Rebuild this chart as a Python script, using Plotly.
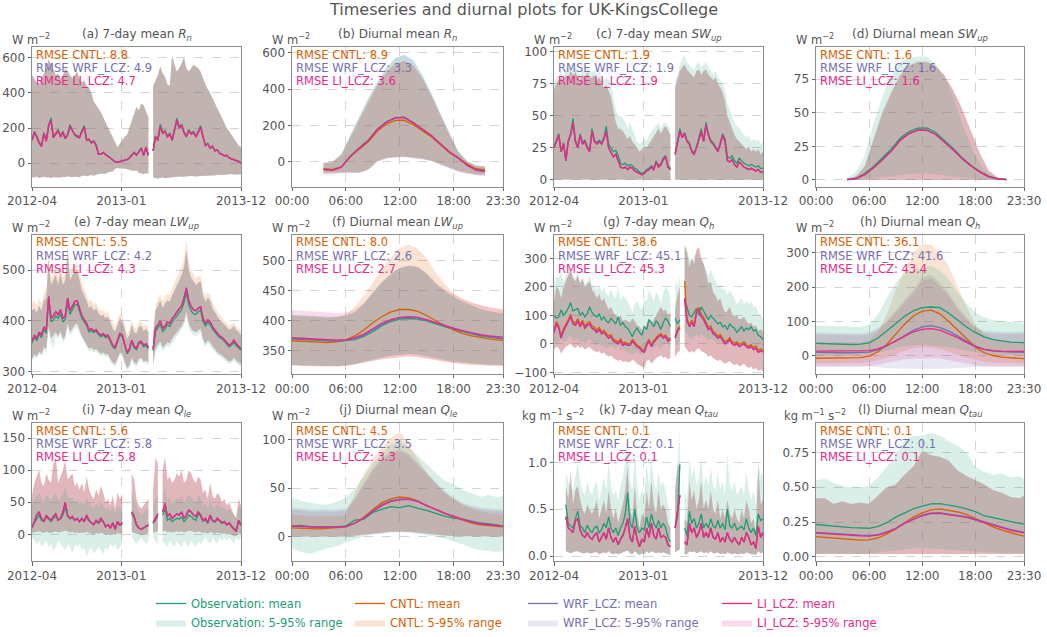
import pandas as pd
import plotly.graph_objects as go

# ----------------------------------------------------------------------------
# Time axes
# ----------------------------------------------------------------------------
WEEK_DATES = [d.strftime("%Y-%m-%d") for d in pd.date_range("2012-04-13", periods=89, freq="7D")]
WEEK_TICKS = [WEEK_DATES[0], "2013-01-01", WEEK_DATES[-1]]
WEEK_TICK_TEXT = ["2012-04", "2013-01", "2013-12"]

HOURS_DAY = [0, 1, 2, 3, 4, 5, 6, 7, 8, 9, 10, 11, 12, 13, 14, 15, 16, 17, 18, 19, 20, 21, 22, 23, 23.5]
HOURS_SUN = [3.5, 4.5, 5.5, 6.5, 7.5, 8.5, 9.5, 10.5, 11.5, 12.5, 13.5, 14.5, 15.5, 16.5, 17.5, 18.5, 19.5, 20.5, 21.5]
HOUR_TICKS = [0, 6, 12, 18, 23.5]
HOUR_TICK_TEXT = ["00:00", "06:00", "12:00", "18:00", "23:30"]

# ----------------------------------------------------------------------------
# 7-day means (weekly samples) and 5-95 % ranges
# ----------------------------------------------------------------------------
RN_WK_OBS = [135, 180, 155, 118, 98, 175, 130, 218, 258, 150,
             170, 192, 155, 182, 145, 165, 220, 186, 165, 155,
             150, 186, 214, 135, 138, 118, 128, 104, 52, 52,
             62, 50, 42, 31, 19, 9, 6, 9, 11, 16,
             21, 31, 47, 62, 47, 67, 88, 47, 93, 47,
             None, 72, 155, 135, 222, 176, 186, 155, 170, 134,
             192, 256, 207, 222, 180, 155, 192, 170, 181, 155,
             181, 214, 155, 104, 114, 88, 98, 72, 78, 57,
             52, 42, 46, 31, 26, 21, 16, 11, 2]
RN_WK_MOD = [130, 175, 150, 115, 95, 170, 125, 210, 245, 145,
             165, 185, 150, 175, 140, 160, 210, 180, 160, 150,
             145, 180, 205, 130, 135, 115, 125, 100, 50, 50,
             60, 48, 40, 30, 18, 8, 5, 8, 10, 15,
             20, 30, 45, 60, 45, 65, 85, 45, 90, 45,
             None, 70, 150, 130, 210, 170, 180, 150, 165, 130,
             185, 245, 200, 215, 175, 150, 185, 165, 175, 150,
             175, 205, 150, 100, 110, 85, 95, 70, 75, 55,
             50, 40, 45, 30, 25, 20, 15, 10, 0]
RN_WK_HI = [500, 480, 460, 450, 480, 520, 540, 590, 560, 520,
            500, 510, 480, 500, 540, 520, 500, 480, 500, 520,
            480, 460, 470, 440, 430, 400, 350, 330, 310, 290,
            260, 230, 210, 180, 150, 110, 90, 110, 130, 150,
            160, 200, 240, 280, 320, 300, 340, 330, 300, 260,
            None, 440, 470, 500, 550, 510, 490, 450, 440, 610,
            560, 520, 540, 570, 600, 540, 520, 540, 560, 550,
            540, 520, 480, 450, 420, 400, 370, 340, 310, 280,
            260, 230, 200, 180, 160, 140, 120, 100, 90]
RN_WK_LO = [-80, -82, -78, -85, -80, -78, -82, -80, -85, -80,
            -78, -80, -82, -78, -80, -75, -78, -80, -76, -78,
            -80, -72, -70, -74, -70, -68, -72, -66, -62, -60,
            -58, -60, -52, -50, -48, -32, -28, -30, -32, -30,
            -35, -40, -42, -45, -40, -55, -60, -62, -58, -60,
            None, -80, -85, -88, -85, -82, -86, -84, -85, -82,
            -80, -78, -76, -75, -78, -74, -75, -72, -74, -76,
            -75, -73, -72, -70, -72, -70, -68, -70, -66, -68,
            -65, -66, -64, -65, -62, -64, -66, -65, -63]

SW_WK_OBS = [26, 31, 36, 23, 29, 16, 31, 36, 48, 31,
             26, 36, 29, 31, 26, 23, 40, 31, 29, 31,
             29, 33, 42, 28, 25, 22, 23, 19, 13, 12,
             13, 11, 12, 11, 9, 8, 6, 5, 6, 8,
             9, 11, 9, 15, 11, 13, 17, 19, 11, 9,
             None, 21, 31, 40, 34, 37, 31, 29, 23, 21,
             26, 33, 40, 31, 45, 36, 31, 29, 26, 23,
             29, 36, 32, 18, 17, 19, 15, 13, 17, 15,
             13, 12, 11, 12, 11, 10, 11, 9, 9]
SW_WK_MOD = [25, 30, 35, 22, 28, 15, 30, 35, 45, 30,
             25, 35, 28, 30, 25, 22, 38, 30, 28, 30,
             28, 32, 38, 25, 22, 18, 20, 15, 10, 9,
             10, 8, 10, 9, 7, 6, 5, 4, 5, 7,
             8, 10, 8, 14, 10, 12, 16, 18, 10, 8,
             None, 20, 30, 38, 33, 36, 30, 28, 22, 20,
             25, 32, 38, 30, 43, 35, 30, 28, 25, 22,
             28, 35, 30, 15, 14, 16, 12, 10, 14, 12,
             10, 9, 8, 9, 8, 7, 8, 6, 6]
SW_WK_HI_OBS = [75, 80, 82, 85, 80, 88, 85, 90, 85, 88,
                85, 82, 86, 84, 88, 85, 84, 86, 82, 85,
                80, 78, 80, 78, 75, 65, 55, 50, 50, 48,
                45, 40, 45, 40, 35, 30, 28, 30, 32, 30,
                35, 38, 40, 42, 45, 40, 44, 45, 42, 40,
                None, 78, 82, 90, 95, 97, 92, 90, 88, 86,
                90, 92, 88, 90, 92, 88, 85, 82, 85, 80,
                78, 75, 70, 60, 55, 50, 45, 42, 40, 38,
                35, 33, 35, 30, 32, 30, 32, 28, 30]
SW_WK_HI_MOD = [70, 75, 78, 80, 76, 82, 80, 85, 82, 84,
                80, 78, 82, 80, 84, 80, 80, 82, 78, 80,
                76, 72, 74, 70, 65, 55, 45, 40, 40, 38,
                35, 32, 34, 30, 28, 25, 22, 24, 26, 25,
                28, 32, 35, 38, 40, 36, 40, 42, 38, 35,
                None, 72, 78, 85, 88, 90, 86, 84, 82, 80,
                85, 86, 82, 85, 86, 82, 80, 78, 80, 75,
                72, 68, 62, 50, 45, 40, 35, 32, 30, 28,
                26, 24, 26, 22, 24, 22, 24, 20, 22]
SW_WK_LO = [0.3, 0.2, 0.4, 0.1, 0.2, 0.0, 0.3, 0.4, 0.5, 0.2,
            0.2, 0.4, 0.2, 0.3, 0.2, 0.1, 0.5, 0.3, 0.2, 0.3,
            0.2, 0.3, 0.4, 0.2, 0.1, 0.0, 0.1, 0.0, 0.0, 0.0,
            0.0, 0.0, 0.0, 0.0, 0.0, 0.0, 0.0, 0.0, 0.0, 0.0,
            0.0, 0.0, 0.0, 0.1, 0.0, 0.1, 0.1, 0.2, 0.0, 0.0,
            None, 0.1, 0.3, 0.4, 0.3, 0.4, 0.3, 0.3, 0.2, 0.2,
            0.3, 0.4, 0.5, 0.3, 0.5, 0.4, 0.3, 0.3, 0.2, 0.2,
            0.3, 0.4, 0.3, 0.1, 0.1, 0.1, 0.0, 0.0, 0.1, 0.0,
            0.0, 0.0, 0.0, 0.0, 0.0, 0.0, 0.0, 0.0, 0.0]

LW_WK_OBS = [356, 368, 361, 374, 367, 383, 376, 440, 398, 402,
             410, 405, 414, 398, 403, 437, 413, 421, 431, 433,
             419, 405, 398, 391, 378, 381, 377, 380, 373, 369,
             372, 367, 369, 357, 349, 345, 357, 372, 369, 352,
             335, 342, 359, 347, 343, 355, 357, 349, 352, 345,
             None, 341, 380, 386, 394, 379, 384, 392, 389, 398,
             403, 410, 417, 422, 436, 455, 431, 420, 414, 413,
             418, 421, 399, 390, 397, 393, 384, 378, 371, 367,
             365, 359, 355, 349, 352, 358, 351, 347, 342]
LW_WK_MOD = [360, 372, 365, 378, 372, 388, 382, 448, 405, 410,
             418, 412, 422, 405, 410, 445, 420, 428, 438, 440,
             425, 410, 402, 395, 382, 385, 380, 383, 376, 372,
             375, 370, 372, 360, 352, 348, 360, 375, 372, 355,
             338, 345, 362, 350, 346, 358, 360, 352, 355, 348,
             None, 345, 385, 392, 400, 385, 390, 398, 395, 405,
             410, 418, 425, 430, 445, 465, 440, 428, 422, 420,
             425, 428, 405, 395, 402, 398, 388, 382, 375, 370,
             368, 362, 358, 352, 355, 362, 355, 350, 345]
LW_WK_HI_MOD = [420, 425, 415, 430, 420, 440, 445, 520, 470, 480,
                490, 470, 495, 470, 480, 535, 480, 490, 495, 500,
                480, 460, 450, 440, 425, 430, 420, 425, 415, 410,
                412, 405, 408, 395, 385, 378, 392, 405, 400, 385,
                365, 372, 392, 378, 375, 388, 390, 380, 384, 378,
                None, 372, 420, 430, 440, 425, 435, 440, 438, 450,
                460, 470, 480, 490, 505, 540, 500, 485, 478, 470,
                475, 478, 450, 438, 445, 440, 425, 418, 410, 402,
                398, 392, 388, 382, 385, 390, 382, 378, 372]
LW_WK_HI_CNTL = [435, 440, 430, 445, 435, 455, 460, 535, 485, 495,
                 505, 485, 510, 485, 495, 550, 495, 505, 510, 515,
                 495, 475, 465, 452, 438, 442, 432, 436, 426, 420,
                 422, 415, 418, 405, 395, 388, 402, 415, 410, 395,
                 375, 382, 402, 388, 385, 398, 400, 390, 394, 388,
                 None, 382, 432, 442, 452, 438, 448, 454, 452, 465,
                 476, 486, 496, 506, 522, 560, 516, 500, 492, 484,
                 488, 490, 462, 450, 456, 452, 436, 428, 420, 412,
                 407, 400, 396, 390, 393, 398, 390, 386, 380]
LW_WK_LO_MOD = [325, 335, 330, 340, 335, 348, 345, 390, 365, 372,
                378, 370, 380, 365, 370, 395, 378, 385, 392, 395,
                382, 370, 362, 355, 345, 348, 342, 345, 340, 336,
                338, 334, 335, 325, 318, 315, 325, 338, 335, 320,
                308, 312, 328, 318, 315, 325, 328, 320, 322, 318,
                None, 315, 345, 352, 360, 348, 352, 358, 356, 365,
                370, 378, 384, 390, 400, 418, 395, 385, 380, 378,
                382, 385, 365, 355, 362, 358, 350, 345, 338, 335,
                332, 328, 325, 320, 322, 328, 322, 318, 315]
LW_WK_LO_OBS = [320, 330, 326, 335, 330, 342, 338, 382, 358, 345,
                371, 364, 373, 358, 363, 388, 371, 378, 385, 388,
                376, 364, 356, 349, 340, 342, 337, 340, 335, 331,
                333, 329, 330, 320, 313, 310, 320, 333, 330, 315,
                303, 307, 323, 313, 310, 320, 323, 315, 317, 313,
                None, 310, 339, 346, 353, 341, 345, 351, 349, 357,
                362, 370, 376, 382, 391, 408, 386, 377, 372, 371,
                375, 378, 358, 349, 356, 352, 344, 339, 332, 330,
                327, 323, 320, 315, 317, 322, 316, 313, 310]

QH_WK_OBS = [100, 90, 95, 120, 100, 110, 125, 145, 115, 120,
             125, 100, 110, 95, 105, 130, 110, 100, 95, 105,
             85, 95, 80, 75, 90, 80, 70, 95, 65, 75,
             60, 55, 40, 25, 45, 55, 40, 30, 60, 50,
             85, 75, 60, 80, 70, 50, 75, 90, 80, 60,
             None, 90, 70, 85, None, 150, 130, 100, 95, 110,
             125, 100, 130, 115, 100, 85, 100, 90, 80, 70,
             75, 60, 65, 50, 70, 60, 55, 40, 50, 60,
             45, 55, 50, 60, 45, 50, 30, 25, 15]
QH_WK_CNTL = [48, 78, 63, 28, 53, 68, 84, 104, 78, 73,
              88, 68, 83, 63, 73, 78, 63, 58, 48, 58,
              42, 47, 37, 27, 32, 17, 12, 7, 17, 2,
              6, 1, 1, 16, 6, -4, -9, -20, -25, 1,
              16, -4, 11, 21, 31, 36, 26, 31, 16, 21,
              None, 26, 52, 62, None, 220, 88, 68, 83, 68,
              118, 128, 103, 93, 78, 58, 63, 43, 37, 27,
              32, 17, 7, 12, 22, 7, 2, 7, -3, 2,
              7, -3, -8, -3, -13, -8, -23, -18, -22]
QH_WK_LCZ = [40, 70, 55, 20, 45, 60, 75, 95, 70, 65,
             80, 60, 75, 55, 65, 70, 55, 50, 40, 50,
             35, 40, 30, 20, 25, 10, 5, 0, 10, -5,
             0, -5, -5, 10, 0, -10, -15, -25, -30, -5,
             10, -10, 5, 15, 25, 30, 20, 25, 10, 15,
             None, 20, 45, 55, None, 160, 80, 60, 75, 60,
             110, 120, 95, 85, 70, 50, 55, 35, 30, 20,
             25, 10, 0, 5, 15, 0, -5, 0, -10, -5,
             0, -10, -15, -10, -20, -15, -30, -25, -28]
QH_WK_HI_OBS = [200, 240, 230, 250, 220, 240, 250, 260, 240, 230,
                250, 220, 230, 210, 220, 240, 210, 200, 190, 210,
                180, 200, 175, 170, 190, 170, 160, 200, 150, 170,
                160, 150, 130, 110, 140, 150, 130, 120, 160, 150,
                190, 170, 150, 180, 170, 140, 180, 200, 190, 160,
                None, 220, 200, 240, None, 340, 330, 300, 290, 310,
                320, 290, 300, 280, 260, 240, 260, 240, 220, 200,
                210, 190, 195, 170, 190, 175, 160, 140, 150, 160,
                140, 150, 140, 150, 130, 130, 110, 100, 90]
QH_WK_LO_OBS = [10, 0, 5, 20, 5, 10, 20, 30, 10, 15,
                20, 5, 10, 0, 10, 20, 5, 0, -5, 5,
                -10, -5, -15, -15, -5, -10, -20, 0, -25, -15,
                -25, -30, -35, -40, -30, -25, -35, -40, -20, -25,
                0, -10, -20, -5, -10, -20, -5, 5, 0, -15,
                None, 5, -5, 10, None, 40, 35, 20, 15, 25,
                35, 20, 35, 25, 20, 10, 20, 15, 10, 5,
                10, 0, 5, -5, 5, 0, -5, -10, -5, 0,
                -10, -5, -10, -5, -15, -10, -20, -25, -30]
QH_WK_HI_MOD = [150, 200, 190, 160, 200, 220, 240, 260, 230, 220,
                240, 210, 230, 200, 210, 220, 190, 180, 160, 175,
                150, 160, 140, 120, 130, 110, 100, 90, 100, 80,
                85, 80, 75, 90, 80, 65, 60, 50, 45, 70,
                90, 70, 85, 100, 120, 130, 115, 120, 100, 110,
                None, 120, 170, 200, None, 350, 320, 270, 300, 280,
                330, 340, 300, 280, 250, 210, 220, 180, 170, 150,
                160, 130, 110, 115, 130, 105, 95, 100, 85, 90,
                95, 80, 70, 75, 60, 65, 45, 50, 45]
QH_WK_LO_MOD = [-20, -10, -15, -35, -20, -10, -5, 0, -10, -15,
                -5, -15, -10, -20, -15, -10, -20, -25, -30, -25,
                -35, -30, -40, -45, -40, -50, -55, -60, -55, -65,
                -60, -65, -65, -55, -60, -70, -75, -80, -85, -60,
                -55, -70, -60, -50, -45, -40, -50, -45, -55, -50,
                None, -45, -30, -25, None, -10, -20, -30, -25, -30,
                -20, -15, -25, -30, -35, -45, -40, -50, -55, -60,
                -55, -65, -70, -65, -60, -70, -75, -70, -80, -75,
                -70, -80, -85, -80, -90, -85, -95, -90, -95]

QLE_WK_OBS = [12, 18, 26, 30, 22, 20, 27, 24, 20, 25,
              28, 22, 24, 30, 42, 28, 24, 26, 22, 24,
              20, 24, 20, 27, 21, 18, 16, 20, 17, 22,
              19, 12, 15, 10, 16, 8, 18, 14, 16, None,
              None, None, 32, 26, 14, 10, 8, 10, 12, 14,
              None, 17, 22, 28, None, 30, 40, 22, 25, 20,
              22, 25, 24, 27, 20, 24, 30, 28, 24, 22,
              33, 28, 20, 23, 17, 27, 21, 19, 23, 21,
              17, 19, 15, 17, 12, 9, 7, 20, 14]
QLE_WK_MOD = [10, 20, 30, 35, 25, 20, 30, 25, 22, 28,
              32, 22, 25, 35, 50, 30, 25, 28, 22, 25,
              20, 25, 20, 30, 22, 18, 15, 22, 18, 25,
              20, 12, 15, 10, 18, 8, 20, 15, 18, None,
              None, None, 35, 28, 15, 10, 8, 10, 12, 15,
              None, 18, 25, 32, None, 35, 48, 28, 32, 25,
              28, 32, 30, 35, 25, 30, 38, 35, 30, 28,
              35, 30, 22, 25, 18, 30, 22, 20, 25, 22,
              18, 20, 15, 18, 12, 8, 5, 22, 15]
QLE_WK_HI_OBS = [45, 55, 60, 65, 55, 50, 62, 58, 52, 60,
                 65, 52, 56, 62, 75, 58, 55, 58, 50, 54,
                 48, 52, 46, 58, 48, 44, 40, 48, 44, 52,
                 46, 38, 42, 36, 44, 32, 46, 40, 44, None,
                 None, None, 62, 55, 40, 34, 30, 34, 38, 40,
                 None, 45, 55, 62, None, 60, 72, 52, 56, 48,
                 52, 56, 54, 60, 48, 54, 62, 58, 52, 48,
                 62, 56, 44, 48, 40, 54, 44, 42, 48, 44,
                 40, 42, 36, 40, 34, 30, 26, 44, 38]
QLE_WK_LO_OBS = [-5, -10, -15, -10, -20, -15, -10, -20, -15, -25,
                 -20, -10, -15, -20, -25, -15, -20, -30, -15, -20,
                 -15, -25, -20, -35, -25, -20, -30, -25, -20, -25,
                 -30, -20, -25, -15, -20, -15, -25, -20, -15, None,
                 None, None, -5, -10, -15, -10, -5, -10, -15, -10,
                 None, -5, -10, -15, None, -10, -15, -20, -10, -15,
                 -20, -10, -15, -20, -10, -15, -20, -10, -15, -20,
                 -10, -15, -10, -5, -10, -15, -5, -10, -15, -5,
                 -10, -5, -10, -5, -10, -15, -5, -10, -5]
QLE_WK_HI_MOD = [60, 80, 90, 100, 80, 75, 95, 85, 80, 110,
                 120, 80, 90, 100, 115, 85, 90, 95, 75, 80,
                 70, 80, 65, 90, 70, 60, 55, 70, 60, 75,
                 65, 50, 55, 45, 60, 40, 65, 55, 60, None,
                 None, None, 95, 85, 55, 45, 40, 45, 50, 55,
                 None, 70, 120, 110, None, 100, 120, 85, 90, 80,
                 85, 95, 90, 100, 80, 85, 100, 95, 85, 80,
                 90, 85, 65, 70, 55, 80, 60, 55, 65, 60,
                 50, 55, 45, 50, 40, 30, 25, 55, 45]
QLE_WK_LO_MOD = [2, 3, 4, 5, 3, 2, 4, 3, 2, 4,
                 5, 3, 4, 5, 6, 4, 3, 4, 2, 3,
                 2, 3, 2, 4, 2, 1, 0, 2, 1, 3,
                 2, 0, 1, 0, 1, -1, 2, 1, 2, None,
                 None, None, 4, 3, 1, 0, -1, 0, 1, 2,
                 None, 2, 4, 5, None, 5, 6, 3, 4, 3,
                 4, 5, 4, 5, 3, 4, 6, 5, 4, 3,
                 5, 4, 2, 3, 1, 4, 2, 1, 3, 2,
                 1, 2, 0, 1, -1, -2, -3, 2, 0]

QTAU_WK_OBS = [None, None, None, None, None, 0.55, 0.35, 0.32, 0.3, 0.4,
               0.48, 0.32, 0.3, 0.25, 0.33, 0.28, 0.25, 0.3, 0.32, 0.25,
               0.28, 0.35, 0.3, 0.42, 0.3, 0.25, 0.3, 0.22, 0.3, 0.35,
               0.45, 0.68, 0.35, 0.3, 0.5, 0.3, 0.25, 0.3, 0.28, 0.42,
               0.3, 0.45, 0.35, 0.3, 0.38, 0.3, 0.35, 0.3, 0.2, 0.15,
               None, 0.3, 0.42, 0.98, None, 0.3, 0.22, 0.48, 0.35, 0.4,
               0.3, 0.35, 0.45, 0.3, 0.35, 0.3, 0.4, 0.32, 0.3, 0.38,
               0.3, 0.35, 0.28, 0.5, 0.32, 0.3, 0.35, 0.28, 0.3, 0.32,
               0.28, 0.4, 0.3, 0.25, 0.3, 0.22, 0.45, 0.38, 0.4]
QTAU_WK_MOD = [None, None, None, None, None, 0.42, 0.3, 0.28, 0.25, 0.38,
               0.4, 0.28, 0.22, 0.2, 0.25, 0.2, 0.18, 0.22, 0.25, 0.15,
               0.2, 0.25, 0.18, 0.3, 0.2, 0.15, 0.2, 0.12, 0.18, 0.22,
               0.3, 0.4, 0.2, 0.15, 0.32, 0.18, 0.1, 0.18, 0.15, 0.3,
               0.2, 0.35, 0.22, 0.18, 0.3, 0.2, 0.22, 0.2, 0.12, 0.1,
               None, 0.3, 0.5, 0.65, None, 0.15, 0.12, 0.35, 0.25, 0.3,
               0.2, 0.25, 0.35, 0.2, 0.25, 0.2, 0.3, 0.2, 0.18, 0.25,
               0.15, 0.2, 0.15, 0.25, 0.18, 0.15, 0.2, 0.15, 0.12, 0.2,
               0.15, 0.25, 0.2, 0.12, 0.15, 0.08, 0.32, 0.2, 0.25]
QTAU_WK_HI_OBS = [None, None, None, None, None, 0.9, 0.8, 0.75, 0.7, 0.85,
                  1.0, 0.8, 0.7, 0.65, 0.8, 0.7, 0.65, 0.75, 0.8, 0.6,
                  0.7, 0.85, 0.7, 1.0, 0.75, 0.65, 0.7, 0.6, 0.75, 0.85,
                  1.0, 1.3, 0.8, 0.7, 1.1, 0.75, 0.6, 0.7, 0.65, 1.0,
                  0.75, 1.05, 0.8, 0.7, 0.9, 0.75, 0.8, 0.7, 0.55, 0.45,
                  None, 0.75, 1.0, 1.35, None, 0.7, 0.6, 1.05, 0.85, 0.95,
                  0.75, 0.85, 1.05, 0.75, 0.85, 0.75, 0.95, 0.75, 0.7, 0.9,
                  0.7, 0.8, 0.65, 1.1, 0.75, 0.7, 0.8, 0.65, 0.7, 0.75,
                  0.65, 0.9, 0.7, 0.6, 0.7, 0.55, 1.0, 0.85, 0.9]
QTAU_WK_HI_MOD = [None, None, None, None, None, 0.75, 0.6, 0.9, 0.55, 0.7,
                  0.75, 0.6, 0.5, 0.45, 0.55, 0.5, 0.45, 0.5, 0.6, 0.4,
                  0.5, 0.6, 0.45, 0.7, 0.5, 0.4, 0.5, 0.35, 0.45, 0.55,
                  0.7, 0.95, 0.5, 0.4, 0.75, 0.45, 0.3, 0.45, 0.4, 0.7,
                  0.5, 0.8, 0.55, 0.45, 0.7, 0.5, 0.55, 0.5, 0.35, 0.3,
                  None, 0.7, 0.95, 1.0, None, 0.4, 0.35, 0.8, 0.6, 0.7,
                  0.5, 0.6, 0.8, 0.5, 0.6, 0.5, 0.7, 0.5, 0.45, 0.6,
                  0.4, 0.5, 0.4, 0.6, 0.45, 0.4, 0.5, 0.4, 0.35, 0.5,
                  0.4, 0.6, 0.5, 0.35, 0.4, 0.25, 0.95, 0.55, 0.6]
QTAU_WK_LO = [None, None, None, None, None, 0.05, 0.04, 0.03, 0.04, 0.05,
              0.05, 0.04, 0.03, 0.03, 0.04, 0.03, 0.03, 0.04, 0.04, 0.02,
              0.03, 0.04, 0.03, 0.05, 0.03, 0.02, 0.03, 0.02, 0.03, 0.04,
              0.05, 0.06, 0.03, 0.02, 0.05, 0.03, 0.01, 0.03, 0.02, 0.05,
              0.03, 0.05, 0.04, 0.03, 0.04, 0.03, 0.04, 0.03, 0.02, 0.01,
              None, 0.04, 0.06, 0.07, None, 0.02, 0.02, 0.05, 0.04, 0.05,
              0.03, 0.04, 0.05, 0.03, 0.04, 0.03, 0.05, 0.03, 0.03, 0.04,
              0.02, 0.03, 0.02, 0.04, 0.03, 0.02, 0.03, 0.02, 0.02, 0.03,
              0.02, 0.04, 0.03, 0.02, 0.02, 0.01, 0.05, 0.03, 0.04]

# ----------------------------------------------------------------------------
# Diurnal means and 5-95 % ranges
# ----------------------------------------------------------------------------
RN_DI_OBS = [-40, -45, -28, 32, 78, 120, 180, 220, 244, 246, 216, 180, 146, 100, 56, 22, -16, -43, -50]
RN_DI_CNTL = [-38, -42, -28, 28, 70, 110, 168, 208, 228, 230, 205, 170, 138, 95, 52, 22, -12, -38, -44]
RN_DI_LCZ = [-42, -47, -30, 30, 75, 118, 178, 218, 242, 245, 215, 178, 145, 100, 55, 22, -18, -45, -52]
RN_DI_HI_OUT = [-5, 0, 45, 150, 250, 350, 440, 515, 570, 590, 560, 480, 380, 270, 160, 60, 5, -20, -25]
RN_DI_HI_IN = [-8, -3, 38, 138, 235, 330, 420, 490, 540, 555, 530, 460, 365, 260, 150, 55, 0, -22, -28]
RN_DI_LO = [-60, -60, -57, -55, -58, -40, 5, 22, 28, 30, 25, 18, 8, -10, -30, -48, -60, -68, -70]
RN_DI_LO_LCZ = [-65, -66, -62, -60, -62, -45, 0, 18, 24, 26, 22, 14, 4, -14, -35, -54, -66, -74, -76]

SW_DI_OBS = [0.5, 1.3, 4.8, 10.0, 16.5, 23.0, 31.0, 36.0, 38.5, 38.8, 35.5, 29.5, 23.5, 16.5, 11.0, 6.5, 2.8, 1.0, 0.5]
SW_DI_MOD = [0.3, 1.0, 4.0, 9.0, 15.0, 21.5, 29.5, 34.5, 37.0, 37.0, 34.0, 28.5, 22.5, 16.0, 10.5, 6.0, 2.5, 0.8, 0.3]
SW_DI_HI_OBS = [1.5, 6, 18, 42, 62, 78, 87, 91, 92, 92, 86, 77, 62, 42, 25, 12, 4, 1.5, 1]
SW_DI_HI_MOD = [0.5, 2.5, 10, 30, 50, 65, 78, 85, 88, 88, 85, 78, 67, 53, 37, 20, 7, 2, 0.5]
SW_DI_LO_OBS = [0, 0, 0.3, 1, 2, 3, 4, 4.5, 5, 5, 4.5, 3.5, 2.5, 1.5, 0.8, 0.3, 0, 0, 0]
SW_DI_LO_MOD = [0, 0, 0, 0, 0, 0, 0, 0, 0, 0, 0, 0, 0, 0, 0, 0, 0, 0, 0]

LW_DI_OBS = [370, 369, 368, 367, 366, 366, 367, 369, 374, 382, 392, 399, 403, 404, 403, 400, 395, 390, 386, 382, 378, 375, 373, 371, 370]
LW_DI_CNTL = [367, 366, 365, 364, 364, 365, 368, 375, 385, 397, 407, 415, 419, 419, 416, 409, 400, 392, 385, 379, 375, 372, 370, 368, 368]
LW_DI_WRF = [371, 370, 369, 368, 367, 367, 368, 370, 376, 385, 394, 401, 405, 406, 405, 401, 396, 391, 387, 383, 379, 376, 374, 372, 371]
LW_DI_LI = [372, 371, 370, 369, 368, 368, 369, 372, 378, 387, 396, 402, 406, 407, 406, 402, 397, 392, 388, 384, 380, 377, 375, 374, 373]
LW_DI_HI_CNTL = [408, 407, 406, 405, 405, 406, 410, 424, 442, 464, 486, 505, 522, 527, 520, 505, 481, 462, 446, 437, 431, 426, 422, 419, 418]
LW_DI_HI_OBS = [410, 409, 408, 407, 407, 407, 409, 414, 428, 447, 464, 478, 488, 492, 490, 478, 462, 450, 440, 432, 426, 420, 416, 413, 412]
LW_DI_HI_LI = [418, 417, 416, 415, 414, 413, 414, 418, 430, 448, 465, 478, 488, 492, 490, 480, 465, 453, 444, 436, 430, 426, 423, 421, 420]
LW_DI_LO_MOD = [326, 325, 325, 324, 324, 324, 325, 327, 330, 333, 336, 338, 340, 341, 340, 338, 335, 332, 330, 328, 327, 326, 326, 325, 325]
LW_DI_LO_OBS = [327, 326, 326, 325, 325, 325, 326, 328, 332, 336, 339, 342, 344, 345, 344, 342, 338, 335, 332, 330, 329, 328, 327, 327, 326]

QH_DI_OBS = [36, 35, 34, 33, 33, 34, 38, 52, 72, 93, 115, 131, 140, 142, 140, 124, 104, 84, 68, 55, 47, 43, 40, 39, 38]
QH_DI_CNTL = [-7, -7, -7, -7, -6, -5, -1, 12, 33, 63, 92, 116, 130, 133, 122, 100, 76, 50, 26, 9, 1, -4, -6, -7, -8]
QH_DI_WRF = [10, 9, 9, 9, 9, 9, 11, 17, 29, 44, 60, 74, 84, 88, 82, 72, 58, 43, 28, 19, 14, 12, 11, 10, 10]
QH_DI_LI = [14, 14, 14, 13, 13, 13, 15, 20, 30, 43, 57, 70, 77, 79, 75, 65, 53, 39, 27, 19, 15, 14, 13, 13, 13]
QH_DI_HI_OBS = [88, 87, 85, 84, 83, 84, 90, 120, 168, 212, 240, 250, 255, 262, 248, 222, 185, 152, 127, 112, 104, 100, 98, 97, 97]
QH_DI_HI_CNTL = [40, 40, 40, 40, 40, 40, 45, 70, 120, 190, 250, 298, 325, 322, 300, 260, 202, 142, 92, 62, 48, 42, 40, 40, 40]
QH_DI_HI_WRF = [68, 67, 66, 65, 65, 65, 68, 80, 102, 132, 162, 192, 228, 236, 212, 182, 142, 112, 84, 73, 70, 69, 69, 70, 70]
QH_DI_HI_LI = [62, 62, 61, 60, 60, 60, 63, 75, 96, 125, 155, 183, 218, 225, 203, 175, 136, 106, 80, 68, 65, 64, 64, 65, 65]
QH_DI_LO_OBS = [2, 2, 1, 1, 1, 2, 4, 8, 15, 22, 28, 30, 32, 30, 28, 25, 20, 15, 10, 6, 4, 3, 3, 2, 2]
QH_DI_LO_CNTL = [-22, -22, -22, -22, -21, -20, -18, -12, -5, 5, 15, 22, 25, 24, 20, 12, 3, -5, -12, -17, -20, -21, -22, -22, -22]
QH_DI_LO_WRF = [-30, -30, -30, -30, -30, -30, -30, -32, -35, -37, -38, -38, -38, -38, -38, -37, -36, -34, -32, -31, -30, -30, -30, -30, -30]
QH_DI_LO_LI = [-32, -32, -32, -32, -32, -31, -30, -26, -20, -14, -10, -8, -7, -7, -8, -11, -16, -22, -27, -30, -31, -32, -32, -32, -32]

QLE_DI_OBS = [11, 11.5, 10, 9.5, 10, 10, 11, 17, 18, 25, 28, 31, 30, 32, 29, 27, 24, 21, 19, 18, 16, 14, 13, 12, 11]
QLE_DI_CNTL = [9, 8.5, 8, 8, 8.5, 9, 10, 14, 20, 28, 35, 39, 41, 40, 37, 32, 28, 24, 20, 17, 14, 12, 11, 10, 10]
QLE_DI_WRF = [10.5, 10, 9.5, 9.5, 9.5, 9.5, 10, 13.5, 19, 27, 33, 37, 39, 39, 36.5, 32, 28, 24, 20.5, 17.5, 15, 13, 12, 11, 10.5]
QLE_DI_LI = [11, 10.5, 10, 10, 10, 10, 10.5, 14, 19, 26, 32, 36, 38, 38.5, 36, 32, 28, 24, 21, 18, 15, 13, 12, 11, 11]
QLE_DI_HI_OBS = [40, 37, 35, 33, 33, 36, 40, 50, 62, 75, 86, 95, 100, 92, 84, 75, 66, 58, 54, 48, 45, 41, 43, 40, 43]
QLE_DI_HI_CNTL = [22, 22, 21, 21, 21, 21, 22, 45, 65, 80, 92, 102, 108, 96, 80, 66, 55, 46, 39, 33, 29, 26, 24, 23, 22]
QLE_DI_HI_WRF = [30, 29, 28, 28, 28, 28, 29, 40, 55, 70, 80, 88, 90, 86, 76, 66, 56, 47, 40, 35, 32, 30, 29, 28, 28]
QLE_DI_HI_LI = [28, 27, 26, 26, 26, 26, 27, 38, 53, 68, 78, 86, 88, 84, 74, 64, 54, 45, 38, 33, 30, 28, 27, 26, 26]
QLE_DI_LO_OBS = [-12, -16, -18, -15, -12, -10, -6, -3, 0, 2, 3, 4, 5, 4, 3, 1, 0, -2, -5, -8, -12, -14, -15, -16, -15]
QLE_DI_LO_MOD = [0, 0, 0, 0, 0, 0, 0, 1, 2, 3, 4, 5, 5, 5, 4, 3, 2, 1, 0.5, 0, 0, 0, 0, 0, 0]

QTAU_DI_OBS = [0.232, 0.228, 0.22, 0.215, 0.21, 0.207, 0.205, 0.218, 0.245, 0.285, 0.315, 0.345, 0.365, 0.38, 0.382, 0.372, 0.36, 0.345, 0.325, 0.295, 0.28, 0.27, 0.255, 0.24, 0.235]
QTAU_DI_CNTL = [0.145, 0.14, 0.135, 0.13, 0.125, 0.12, 0.122, 0.135, 0.165, 0.2, 0.245, 0.285, 0.315, 0.338, 0.345, 0.335, 0.322, 0.305, 0.275, 0.245, 0.215, 0.192, 0.172, 0.155, 0.148]
QTAU_DI_WRF = [0.175, 0.17, 0.165, 0.162, 0.158, 0.155, 0.153, 0.16, 0.18, 0.205, 0.245, 0.275, 0.3, 0.315, 0.317, 0.307, 0.3, 0.288, 0.27, 0.25, 0.23, 0.21, 0.195, 0.183, 0.177]
QTAU_DI_LI = [0.17, 0.165, 0.16, 0.157, 0.153, 0.15, 0.148, 0.155, 0.175, 0.2, 0.24, 0.27, 0.295, 0.31, 0.312, 0.302, 0.295, 0.283, 0.265, 0.245, 0.225, 0.205, 0.19, 0.178, 0.172]
QTAU_DI_HI_OBS = [0.55, 0.56, 0.53, 0.51, 0.5, 0.5, 0.51, 0.57, 0.65, 0.73, 0.84, 0.87, 0.87, 0.89, 0.87, 0.83, 0.8, 0.75, 0.65, 0.61, 0.59, 0.6, 0.57, 0.58, 0.56]
QTAU_DI_HI_MOD = [0.42, 0.42, 0.38, 0.4, 0.38, 0.39, 0.38, 0.44, 0.5, 0.52, 0.59, 0.65, 0.76, 0.73, 0.72, 0.69, 0.62, 0.58, 0.55, 0.52, 0.48, 0.46, 0.43, 0.42, 0.44]
QTAU_DI_LO_OBS = [0.025, 0.022, 0.02, 0.02, 0.02, 0.02, 0.022, 0.03, 0.04, 0.05, 0.055, 0.06, 0.065, 0.065, 0.06, 0.055, 0.05, 0.045, 0.04, 0.035, 0.03, 0.028, 0.026, 0.025, 0.025]
QTAU_DI_LO_MOD = [0.02, 0.02, 0.02, 0.02, 0.02, 0.02, 0.02, 0.021, 0.022, 0.023, 0.024, 0.025, 0.025, 0.025, 0.025, 0.024, 0.023, 0.022, 0.021, 0.02, 0.02, 0.02, 0.02, 0.02, 0.02]

# RMSE scores shown in each panel (a .. l)
RMSE_CNTL = [8.8, 8.9, 1.9, 1.6, 5.5, 8.0, 38.6, 36.1, 5.6, 4.5, 0.1, 0.1]
RMSE_WRF = [4.9, 3.3, 1.9, 1.6, 4.2, 2.6, 45.1, 41.6, 5.8, 3.5, 0.1, 0.1]
RMSE_LI = [4.7, 3.6, 1.9, 1.6, 4.3, 2.7, 45.3, 43.4, 5.8, 3.3, 0.1, 0.1]

# ----------------------------------------------------------------------------
# Styling
# ----------------------------------------------------------------------------
W, H = 1047, 637
FONT = "DejaVu Sans"
TEXT = "#555555"
SERIES = ["obs", "cntl", "wrf", "li"]
BAND_ORDER = ["li", "wrf", "cntl", "obs"]
LABELS = {"obs": "Observation", "cntl": "CNTL", "wrf": "WRF_LCZ", "li": "LI_LCZ"}
COLORS = {"obs": "#1b9e77", "cntl": "#d95f02", "wrf": "#7570b3", "li": "#e7298a"}
LEGEND_OF = {"obs": "legend", "cntl": "legend2", "wrf": "legend3", "li": "legend4"}
BAND_ALPHA = 0.17

COL_PX = [(32, 241), (292, 503), (554, 763), (816, 1024)]
ROW_PX = [(47.7, 188.3), (237.3, 377.3), (427.3, 566.7)]

UNIT_W = "W m<sup>\u22122</sup>"
UNIT_TAU = "kg m<sup>\u22121</sup> s<sup>\u22122</sup>"


def rgba(hex_color, a):
    h = hex_color.lstrip("#")
    return "rgba(%d,%d,%d,%s)" % (int(h[0:2], 16), int(h[2:4], 16), int(h[4:6], 16), a)


def same4(v):
    return {s: v for s in SERIES}


PANELS = [
    dict(title="(a) 7-day mean <i>R<sub>n</sub></i>", kind="week", unit=UNIT_W,
         yrange=[-133, 660], yticks=[0, 200, 400, 600], fmt="",
         mean=dict(obs=RN_WK_OBS, cntl=RN_WK_MOD, wrf=RN_WK_MOD, li=RN_WK_MOD),
         band=same4((RN_WK_LO, RN_WK_HI))),
    dict(title="(b) Diurnal mean <i>R<sub>n</sub></i>", kind="sun", unit=UNIT_W,
         yrange=[-136, 631], yticks=[0, 200, 400, 600], fmt="",
         mean=dict(obs=RN_DI_OBS, cntl=RN_DI_CNTL, wrf=RN_DI_LCZ, li=RN_DI_LCZ),
         band=dict(obs=(RN_DI_LO, RN_DI_HI_OUT), cntl=(RN_DI_LO, RN_DI_HI_IN),
                   wrf=(RN_DI_LO_LCZ, RN_DI_HI_OUT), li=(RN_DI_LO_LCZ, RN_DI_HI_IN))),
    dict(title="(c) 7-day mean <i>SW<sub>up</sub></i>", kind="week", unit=UNIT_W,
         yrange=[-5.2, 103.6], yticks=[0, 25, 50, 75, 100], fmt="",
         mean=dict(obs=SW_WK_OBS, cntl=SW_WK_MOD, wrf=SW_WK_MOD, li=SW_WK_MOD),
         band=dict(obs=(SW_WK_LO, SW_WK_HI_OBS), cntl=(SW_WK_LO, SW_WK_HI_MOD),
                   wrf=(SW_WK_LO, SW_WK_HI_MOD), li=(SW_WK_LO, SW_WK_HI_MOD))),
    dict(title="(d) Diurnal mean <i>SW<sub>up</sub></i>", kind="sun", unit=UNIT_W,
         yrange=[-4.9, 98.8], yticks=[0, 25, 50, 75], fmt="",
         mean=dict(obs=SW_DI_OBS, cntl=SW_DI_MOD, wrf=SW_DI_MOD, li=SW_DI_MOD),
         band=dict(obs=(SW_DI_LO_OBS, SW_DI_HI_OBS), cntl=(SW_DI_LO_MOD, SW_DI_HI_MOD),
                   wrf=(SW_DI_LO_MOD, SW_DI_HI_MOD), li=(SW_DI_LO_MOD, SW_DI_HI_MOD))),
    dict(title="(e) 7-day mean <i>LW<sub>up</sub></i>", kind="week", unit=UNIT_W,
         yrange=[296, 569], yticks=[300, 400, 500], fmt="",
         mean=dict(obs=LW_WK_OBS, cntl=LW_WK_MOD, wrf=LW_WK_MOD, li=LW_WK_MOD),
         band=dict(obs=(LW_WK_LO_OBS, LW_WK_HI_MOD), cntl=(LW_WK_LO_MOD, LW_WK_HI_CNTL),
                   wrf=(LW_WK_LO_MOD, LW_WK_HI_MOD), li=(LW_WK_LO_MOD, LW_WK_HI_MOD))),
    dict(title="(f) Diurnal mean <i>LW<sub>up</sub></i>", kind="day", unit=UNIT_W,
         yrange=[312, 543], yticks=[350, 400, 450, 500], fmt="",
         mean=dict(obs=LW_DI_OBS, cntl=LW_DI_CNTL, wrf=LW_DI_WRF, li=LW_DI_LI),
         band=dict(obs=(LW_DI_LO_OBS, LW_DI_HI_OBS), cntl=(LW_DI_LO_MOD, LW_DI_HI_CNTL),
                   wrf=(LW_DI_LO_OBS, LW_DI_HI_OBS), li=(LW_DI_LO_MOD, LW_DI_HI_LI))),
    dict(title="(g) 7-day mean <i>Q<sub>h</sub></i>", kind="week", unit=UNIT_W,
         yrange=[-105, 382], yticks=[-100, 0, 100, 200, 300], fmt="",
         mean=dict(obs=QH_WK_OBS, cntl=QH_WK_CNTL, wrf=QH_WK_LCZ, li=QH_WK_LCZ),
         band=dict(obs=(QH_WK_LO_OBS, QH_WK_HI_OBS), cntl=(QH_WK_LO_MOD, QH_WK_HI_MOD),
                   wrf=(QH_WK_LO_MOD, QH_WK_HI_MOD), li=(QH_WK_LO_MOD, QH_WK_HI_MOD))),
    dict(title="(h) Diurnal mean <i>Q<sub>h</sub></i>", kind="day", unit=UNIT_W,
         yrange=[-52, 351], yticks=[0, 100, 200, 300], fmt="",
         mean=dict(obs=QH_DI_OBS, cntl=QH_DI_CNTL, wrf=QH_DI_WRF, li=QH_DI_LI),
         band=dict(obs=(QH_DI_LO_OBS, QH_DI_HI_OBS), cntl=(QH_DI_LO_CNTL, QH_DI_HI_CNTL),
                   wrf=(QH_DI_LO_WRF, QH_DI_HI_WRF), li=(QH_DI_LO_LI, QH_DI_HI_LI))),
    dict(title="(i) 7-day mean <i>Q<sub>le</sub></i>", kind="week", unit=UNIT_W,
         yrange=[-42, 173], yticks=[0, 50, 100, 150], fmt="",
         mean=dict(obs=QLE_WK_OBS, cntl=QLE_WK_MOD, wrf=QLE_WK_MOD, li=QLE_WK_MOD),
         band=dict(obs=(QLE_WK_LO_OBS, QLE_WK_HI_OBS), cntl=(QLE_WK_LO_MOD, QLE_WK_HI_MOD),
                   wrf=(QLE_WK_LO_MOD, QLE_WK_HI_MOD), li=(QLE_WK_LO_MOD, QLE_WK_HI_MOD))),
    dict(title="(j) Diurnal mean <i>Q<sub>le</sub></i>", kind="day", unit=UNIT_W,
         yrange=[-25.6, 117], yticks=[0, 50, 100], fmt="",
         mean=dict(obs=QLE_DI_OBS, cntl=QLE_DI_CNTL, wrf=QLE_DI_WRF, li=QLE_DI_LI),
         band=dict(obs=(QLE_DI_LO_OBS, QLE_DI_HI_OBS), cntl=(QLE_DI_LO_MOD, QLE_DI_HI_CNTL),
                   wrf=(QLE_DI_LO_MOD, QLE_DI_HI_WRF), li=(QLE_DI_LO_MOD, QLE_DI_HI_LI))),
    dict(title="(k) 7-day mean <i>Q<sub>tau</sub></i>", kind="week", unit=UNIT_TAU,
         yrange=[-0.057, 1.42], yticks=[0.0, 0.5, 1.0], fmt=".1f",
         mean=dict(obs=QTAU_WK_OBS, cntl=QTAU_WK_MOD, wrf=QTAU_WK_MOD, li=QTAU_WK_MOD),
         band=dict(obs=(QTAU_WK_LO, QTAU_WK_HI_OBS), cntl=(QTAU_WK_LO, QTAU_WK_HI_MOD),
                   wrf=(QTAU_WK_LO, QTAU_WK_HI_MOD), li=(QTAU_WK_LO, QTAU_WK_HI_MOD))),
    dict(title="(l) Diurnal mean <i>Q<sub>tau</sub></i>", kind="day", unit=UNIT_TAU,
         yrange=[-0.033, 0.96], yticks=[0.0, 0.25, 0.5, 0.75], fmt=".2f",
         mean=dict(obs=QTAU_DI_OBS, cntl=QTAU_DI_CNTL, wrf=QTAU_DI_WRF, li=QTAU_DI_LI),
         band=dict(obs=(QTAU_DI_LO_OBS, QTAU_DI_HI_OBS), cntl=(QTAU_DI_LO_MOD, QTAU_DI_HI_MOD),
                   wrf=(QTAU_DI_LO_MOD, QTAU_DI_HI_MOD), li=(QTAU_DI_LO_MOD, QTAU_DI_HI_MOD))),
]

X_OF_KIND = {"week": WEEK_DATES, "day": HOURS_DAY, "sun": HOURS_SUN}


def band_path(x, lo, hi):
    """Closed polygons (one per contiguous run) between lo and hi."""
    px, py, seg = [], [], []

    def flush():
        if seg:
            px.extend([s[0] for s in seg] + [s[0] for s in reversed(seg)] + [None])
            py.extend([s[2] for s in seg] + [s[1] for s in reversed(seg)] + [None])
            seg.clear()

    for xi, lo_v, hi_v in zip(x, lo, hi):
        if lo_v is None or hi_v is None:
            flush()
        else:
            seg.append((xi, lo_v, hi_v))
    flush()
    return px, py


fig = go.Figure()
layout = {}
annotations = []


def fx(px):
    return px / W


def fy(py):
    return 1 - py / H


for p, cfg in enumerate(PANELS):
    r, c = divmod(p, 4)
    suffix = "" if p == 0 else str(p + 1)
    xref, yref = "x" + suffix, "y" + suffix
    x = X_OF_KIND[cfg["kind"]]
    for s in SERIES:
        assert len(cfg["mean"][s]) == len(x), (p, s)
        assert len(cfg["band"][s][0]) == len(x) and len(cfg["band"][s][1]) == len(x), (p, s)

    # 5-95 % ranges first, so every mean line sits on top
    for s in BAND_ORDER:
        lo, hi = cfg["band"][s]
        bx, by = band_path(x, lo, hi)
        fig.add_trace(go.Scatter(
            x=bx, y=by, mode="lines", fill="toself", fillcolor=rgba(COLORS[s], BAND_ALPHA),
            line=dict(width=0, color=rgba(COLORS[s], BAND_ALPHA)), hoverinfo="skip",
            name=LABELS[s] + ": 5-95% range", legend=LEGEND_OF[s], legendrank=2,
            showlegend=(p == 0), xaxis=xref, yaxis=yref))
    for s in SERIES:
        fig.add_trace(go.Scatter(
            x=x, y=cfg["mean"][s], mode="lines", connectgaps=False,
            line=dict(color=COLORS[s], width=1.3), hoverinfo="skip",
            name=LABELS[s] + ": mean", legend=LEGEND_OF[s], legendrank=1,
            showlegend=(p == 0), xaxis=xref, yaxis=yref))

    left, right = COL_PX[c]
    top, bottom = ROW_PX[r]
    axis_common = dict(showline=True, mirror=True, linecolor="#8c8c8c", linewidth=1,
                       showgrid=True, gridcolor="#d4d4d4", griddash="dash", gridwidth=1,
                       zeroline=False, ticks="outside", ticklen=3.5, tickcolor="#666666",
                       automargin=False,
                       tickfont=dict(family=FONT, size=12, color=TEXT))
    if cfg["kind"] == "week":
        xa = dict(type="date", range=[WEEK_DATES[0], WEEK_DATES[-1]],
                  tickmode="array", tickvals=WEEK_TICKS, ticktext=WEEK_TICK_TEXT)
    else:
        xa = dict(range=[0, 23.5], tickmode="array", tickvals=HOUR_TICKS, ticktext=HOUR_TICK_TEXT)
    xa.update(axis_common)
    xa.update(domain=[fx(left), fx(right)], anchor=yref)
    ya = dict(range=cfg["yrange"], tickmode="array", tickvals=cfg["yticks"],
              tickformat=cfg["fmt"])
    ya.update(axis_common)
    ya.update(domain=[fy(bottom), fy(top)], anchor=xref)
    layout["xaxis" + suffix] = xa
    layout["yaxis" + suffix] = ya

    annotations.append(dict(text=cfg["title"], x=fx((left + right) / 2), y=fy(top - 12.5),
                            xref="paper", yref="paper", xanchor="center", yanchor="middle",
                            showarrow=False, font=dict(family=FONT, size=12, color=TEXT)))
    unit_dx = 34 if cfg["unit"] == UNIT_TAU else 22
    annotations.append(dict(text=cfg["unit"], x=fx(left - unit_dx), y=fy(top - 8),
                            xref="paper", yref="paper", xanchor="left", yanchor="middle",
                            showarrow=False, font=dict(family=FONT, size=11.5, color=TEXT)))
    rmse_lines = [("RMSE CNTL: %.1f" % RMSE_CNTL[p], COLORS["cntl"]),
                  ("RMSE WRF_LCZ: %.1f" % RMSE_WRF[p], COLORS["wrf"]),
                  ("RMSE LI_LCZ: %.1f" % RMSE_LI[p], COLORS["li"])]
    for i, (txt, col) in enumerate(rmse_lines):
        annotations.append(dict(text=txt, x=fx(left + 1.5), y=fy(top + 7.5 + 13.5 * i),
                                xref="paper", yref="paper", xanchor="left", yanchor="middle",
                                showarrow=False, font=dict(family=FONT, size=11.5, color=col)))

annotations.append(dict(text="Timeseries and diurnal plots for UK-KingsCollege",
                        x=0.5, y=fy(10), xref="paper", yref="paper",
                        xanchor="center", yanchor="middle", showarrow=False,
                        font=dict(family=FONT, size=16, color=TEXT)))

LEGEND_LEFT_PX = {"obs": 151, "cntl": 350, "wrf": 523, "li": 717}
for s in SERIES:
    layout[LEGEND_OF[s]] = dict(
        x=fx(LEGEND_LEFT_PX[s]), y=fy(595), xanchor="left", yanchor="top",
        orientation="v", bgcolor="rgba(0,0,0,0)", borderwidth=0,
        font=dict(family=FONT, size=11.5, color=COLORS[s]), tracegroupgap=0,
        itemwidth=30)

layout.update(
    width=W, height=H, margin=dict(l=0, r=0, t=0, b=0),
    paper_bgcolor="white", plot_bgcolor="white",
    font=dict(family=FONT, size=12, color=TEXT),
    annotations=annotations, hovermode=False,
)
fig.update_layout(**layout)
fig.write_html("out.html")
